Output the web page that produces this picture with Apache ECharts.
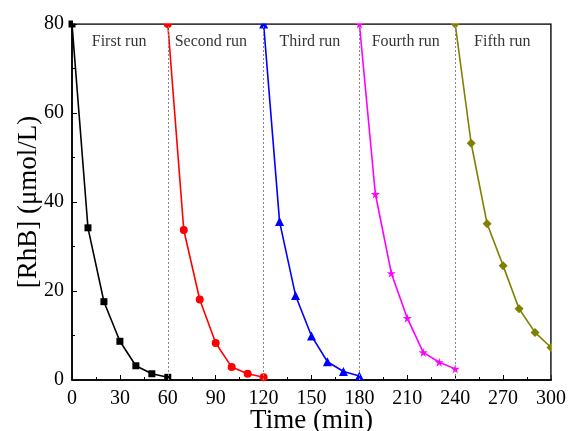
<!DOCTYPE html>
<html>
<head>
<meta charset="utf-8">
<script src="https://cdn.jsdelivr.net/npm/echarts@6/dist/echarts.min.js"></script>
<style>
  html, body { margin: 0; padding: 0; background: #fff; }
  #chart { width: 568px; height: 431px; }
</style>
</head>
<body>
<div id="chart"></div>
<script>
// Concentration of RhB during five successive degradation runs
const time1 = [0, 10, 20, 30, 40, 50, 60];
const run1 = [80, 34.2, 17.6, 8.7, 3.2, 1.4, 0.6];
const time2 = [60, 70, 80, 90, 100, 110, 120];
const run2 = [80, 33.7, 18.1, 8.3, 2.9, 1.4, 0.6];
const time3 = [120, 130, 140, 150, 160, 170, 180];
const run3 = [80, 35.6, 19.0, 9.9, 4.1, 1.9, 0.9];
const time4 = [180, 190, 200, 210, 220, 230, 240];
const run4 = [80, 41.8, 24.0, 13.9, 6.2, 4.0, 2.5];
const time5 = [240, 250, 260, 270, 280, 290, 300];
const run5 = [80, 53.2, 35.1, 25.7, 16.0, 10.7, 7.3];

const runNames = ['First run', 'Second run', 'Third run', 'Fourth run', 'Fifth run'];
const runBoundaries = [60, 120, 180, 240];
const runLabelX = [29.5, 87, 149, 209, 269.5];
const runLabelY = 76;

const serif = '"Liberation Serif", "DejaVu Serif", serif';

const GRID = { left: 72, right: 17, top: 24, bottom: 51 };
const W = 568, H = 431;

function pairs(xs, ys) { return xs.map((x, i) => [x, ys[i]]); }

const styles = [
  { color: '#000000', symbol: 'rect', size: 7 },
  { color: '#ff0000', symbol: 'circle', size: 8 },
  { color: '#0000ff', symbol: 'triangle', size: 9 },
  { color: '#ff00ff', symbol: 'path://M50,0 L61,35 L98,35 L68,57 L79,91 L50,70 L21,91 L32,57 L2,35 L39,35 Z', size: 9 },
  { color: '#808000', symbol: 'diamond', size: 9 }
];
const allData = [pairs(time1, run1), pairs(time2, run2), pairs(time3, run3), pairs(time4, run4), pairs(time5, run5)];

const series = allData.map((d, i) => ({
  type: 'line',
  name: runNames[i],
  data: d,
  symbol: styles[i].symbol,
  symbolSize: styles[i].size,
  showSymbol: true,
  lineStyle: { color: styles[i].color, width: 1.6 },
  itemStyle: { color: styles[i].color },
  clip: false,
  z: 3
}));

// dotted separators between runs
series.push({
  type: 'line',
  data: [],
  silent: true,
  markLine: {
    silent: true,
    symbol: 'none',
    label: { show: false },
    lineStyle: { color: '#888', type: [2, 2], width: 1 },
    data: runBoundaries.map(x => ({ xAxis: x }))
  }
});

// run captions
series.push({
  type: 'scatter',
  data: runLabelX.map((x, i) => [x, runLabelY, runNames[i]]),
  symbolSize: 0,
  silent: true,
  label: {
    show: true,
    position: 'inside',
    formatter: p => p.data[2],
    fontFamily: serif,
    fontSize: 16,
    color: '#000'
  }
});

const chart = echarts.init(document.getElementById('chart'), null, { renderer: 'canvas' });
chart.setOption({
  animation: false,
  backgroundColor: '#fff',
  grid: Object.assign({ show: true, borderColor: '#000', borderWidth: 1.5, outerBoundsMode: 'none', containLabel: false }, GRID),
  // white masks trimming markers that sit on the top and right frame edges
  graphic: [
    { type: 'rect', z: 100, silent: true,
      shape: { x: GRID.left + 1, y: 0, width: W - GRID.left, height: GRID.top - 0.8 },
      style: { fill: '#fff' } },
    { type: 'rect', z: 100, silent: true,
      shape: { x: W - GRID.right + 0.8, y: 0, width: GRID.right, height: H - GRID.bottom - 1 },
      style: { fill: '#fff' } }
  ],
  xAxis: {
    type: 'value',
    min: 0, max: 300, interval: 30,
    name: 'Time (min)',
    nameLocation: 'middle',
    nameGap: 27,
    nameMoveOverlap: false,
    nameTextStyle: { fontFamily: serif, fontSize: 27, color: '#000' },
    axisLine: { show: true, lineStyle: { color: '#000', width: 1.5 } },
    axisTick: { show: true, inside: true, length: 5, lineStyle: { color: '#000', width: 1 } },
    minorTick: { show: true, splitNumber: 2, length: 3, lineStyle: { color: '#000', width: 1 } },
    axisLabel: { fontFamily: serif, fontSize: 20, color: '#000', margin: 9 },
    splitLine: { show: false }
  },
  yAxis: {
    type: 'value',
    min: 0, max: 80, interval: 20,
    name: '[RhB] (μmol/L)',
    nameLocation: 'middle',
    nameGap: 30,
    nameMoveOverlap: false,
    nameTextStyle: { fontFamily: serif, fontSize: 27, color: '#000' },
    axisLine: { show: true, lineStyle: { color: '#000', width: 1.5 } },
    axisTick: { show: true, inside: true, length: 5, lineStyle: { color: '#000', width: 1 } },
    minorTick: { show: true, splitNumber: 2, length: 3, lineStyle: { color: '#000', width: 1 } },
    axisLabel: { fontFamily: serif, fontSize: 20, color: '#000', margin: 8 },
    splitLine: { show: false }
  },
  series: series
});
</script>
</body>
</html>
